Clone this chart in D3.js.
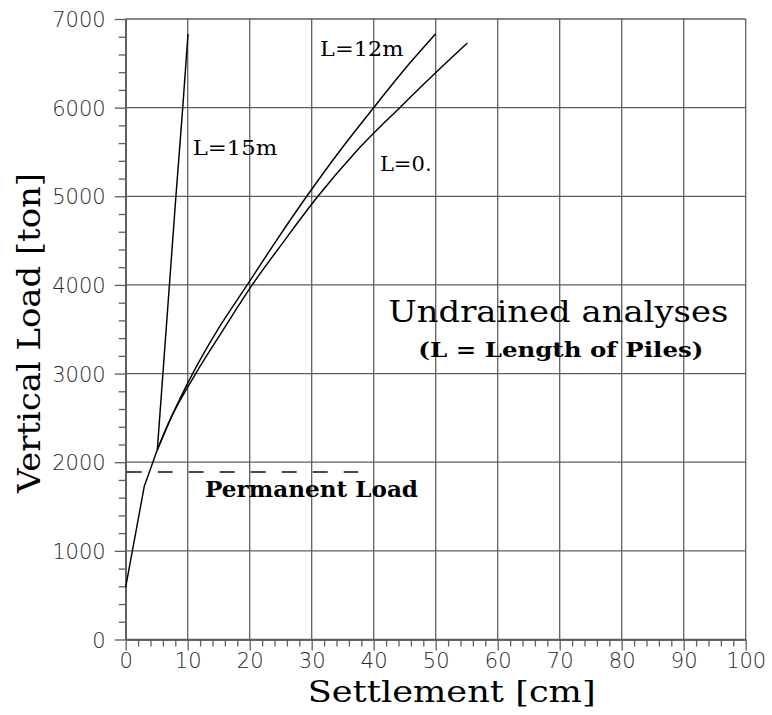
<!DOCTYPE html>
<html>
<head>
<meta charset="utf-8">
<script src="https://cdn.jsdelivr.net/npm/d3@7/dist/d3.min.js"></script>
<style>
  html, body { margin: 0; padding: 0; background: #fff; }
  svg { display: block; }
</style>
</head>
<body>
<svg id="chart" width="772" height="715"></svg>
<script>
// Settlement (cm) and vertical load (ton) of the pile group, undrained analyses

// shared initial branch of all three curves
const footSettlement = [0, 3.0, 5.1];
const footLoad       = [590, 1730, 2140];

// L = 15 m
const l15Settlement = [5.1, 8.1, 9.2, 10.05];
const l15Load       = [2140, 5000, 6000, 6830];

// L = 12 m
const l12Settlement = [5.1, 7.3, 10.8, 14.8, 19.6, 24.3, 29.2, 34.4, 40.0, 45.8, 50.0];
const l12Load       = [2140, 2500, 3000, 3490, 4000, 4500, 5000, 5500, 6000, 6500, 6834];

// L = 0
const l0Settlement = [5.1, 7.3, 11.3, 15.7, 20.4, 25.6, 31.0, 37.1, 44.2, 51.6, 55.1];
const l0Load       = [2140, 2500, 3000, 3490, 4000, 4500, 5000, 5500, 6000, 6500, 6730];

const permanentLoad = 1890;
const permanentExtent = [0, 37.5];

const xTicks = [0, 10, 20, 30, 40, 50, 60, 70, 80, 90, 100];
const yTicks = [0, 1000, 2000, 3000, 4000, 5000, 6000, 7000];

const svg = d3.select("#chart");

const x = d3.scaleLinear().domain([0, 100]).range([125.7, 745.7]);
const y = d3.scaleLinear().domain([0, 7000]).range([639.5, 19]);

const gridColor = "#5e5e5e";
const sansFont = "'DejaVu Sans ExtraLight', 'DejaVu Sans', sans-serif";
const serifFont = "'DejaVu Serif', serif";

// grid
const grid = svg.append("g");
grid.selectAll("line.v").data(xTicks).join("line")
  .attr("x1", d => x(d)).attr("x2", d => x(d))
  .attr("y1", y(0)).attr("y2", y(7000))
  .attr("stroke", gridColor).attr("stroke-width", 1.3);
grid.selectAll("line.h").data(yTicks).join("line")
  .attr("y1", d => y(d)).attr("y2", d => y(d))
  .attr("x1", x(0)).attr("x2", x(100))
  .attr("stroke", gridColor).attr("stroke-width", 1.3);

// axes with major and minor ticks
const xMinor = d3.range(0, 101, 2).filter(v => v % 10 !== 0);
const yMinor = d3.range(0, 7001, 200).filter(v => v % 1000 !== 0);

const xAxis = svg.append("g").attr("transform", `translate(0,${y(0)})`)
  .call(d3.axisBottom(x).tickValues(xTicks).tickSize(11).tickSizeOuter(0).tickFormat(d3.format("d")));
const xAxisMinor = svg.append("g").attr("transform", `translate(0,${y(0)})`)
  .call(d3.axisBottom(x).tickValues(xMinor).tickSize(7).tickSizeOuter(0).tickFormat(""));
const yAxis = svg.append("g").attr("transform", `translate(${x(0)},0)`)
  .call(d3.axisLeft(y).tickValues(yTicks).tickSize(11).tickSizeOuter(0).tickFormat(d3.format("d")));
const yAxisMinor = svg.append("g").attr("transform", `translate(${x(0)},0)`)
  .call(d3.axisLeft(y).tickValues(yMinor).tickSize(7).tickSizeOuter(0).tickFormat(""));

[xAxis, xAxisMinor, yAxis, yAxisMinor].forEach(g => {
  g.select(".domain").attr("stroke", gridColor).attr("stroke-width", 1.3);
  g.selectAll(".tick line").attr("stroke", gridColor).attr("stroke-width", 1.3);
  g.selectAll(".tick text")
    .attr("font-family", sansFont).attr("font-weight", 200)
    .attr("font-size", 21).attr("fill", "#2a2a2a");
});
xAxis.selectAll(".tick text").attr("dy", "0.71em").attr("y", 14);
yAxis.selectAll(".tick text").attr("x", -20).attr("dy", "0.36em");

// load-settlement curves
const pts = (xs, ys) => xs.map((v, i) => [v, ys[i]]);
const lineLinear = d3.line().x(d => x(d[0])).y(d => y(d[1]));
const lineSmooth = d3.line().x(d => x(d[0])).y(d => y(d[1])).curve(d3.curveMonotoneX);

const curves = svg.append("g").attr("fill", "none").attr("stroke", "#000")
  .attr("stroke-width", 1.45).attr("stroke-linejoin", "round");
curves.append("path").attr("d", lineLinear(pts(footSettlement, footLoad)));
curves.append("path").attr("d", lineSmooth(pts(l15Settlement, l15Load)));
curves.append("path").attr("d", lineSmooth(pts(l12Settlement, l12Load)));
curves.append("path").attr("d", lineSmooth(pts(l0Settlement, l0Load)));

// permanent load level
svg.append("line")
  .attr("x1", x(permanentExtent[0])).attr("x2", x(permanentExtent[1]))
  .attr("y1", y(permanentLoad)).attr("y2", y(permanentLoad))
  .attr("stroke", "#111").attr("stroke-width", 1.4)
  .attr("stroke-dasharray", "15 16").attr("stroke-dashoffset", -1);

// annotations, anchored in data units
function label(text, sx, load, size, weight, width) {
  svg.append("text")
    .attr("x", x(sx)).attr("y", y(load))
    .attr("font-family", serifFont).attr("font-size", size)
    .attr("font-weight", weight).attr("fill", "#000")
    .attr("textLength", width).attr("lengthAdjust", "spacingAndGlyphs")
    .text(text);
}
label("L=15m", 10.8, 5468, 20, "normal", 84.6);
label("L=12m", 31.35, 6580, 21, "normal", 83.3);
label("L=0.", 41.0, 5288, 21, "normal", 51.7);
label("Undrained analyses", 42.35, 3586, 29, "normal", 340);
label("(L = Length of Piles)", 47.2, 3185, 20, "bold", 285);
label("Permanent Load", 12.8, 1612, 22, "bold", 213);

// axis titles
svg.append("text")
  .attr("x", 451.7).attr("y", 702)
  .attr("text-anchor", "middle")
  .attr("font-family", serifFont).attr("font-size", 29)
  .attr("textLength", 288).attr("lengthAdjust", "spacingAndGlyphs")
  .text("Settlement [cm]");

svg.append("text")
  .attr("transform", "translate(39.5,333) rotate(-90)")
  .attr("text-anchor", "middle")
  .attr("font-family", serifFont).attr("font-size", 31)
  .attr("textLength", 320).attr("lengthAdjust", "spacingAndGlyphs")
  .text("Vertical Load [ton]");
</script>
</body>
</html>
